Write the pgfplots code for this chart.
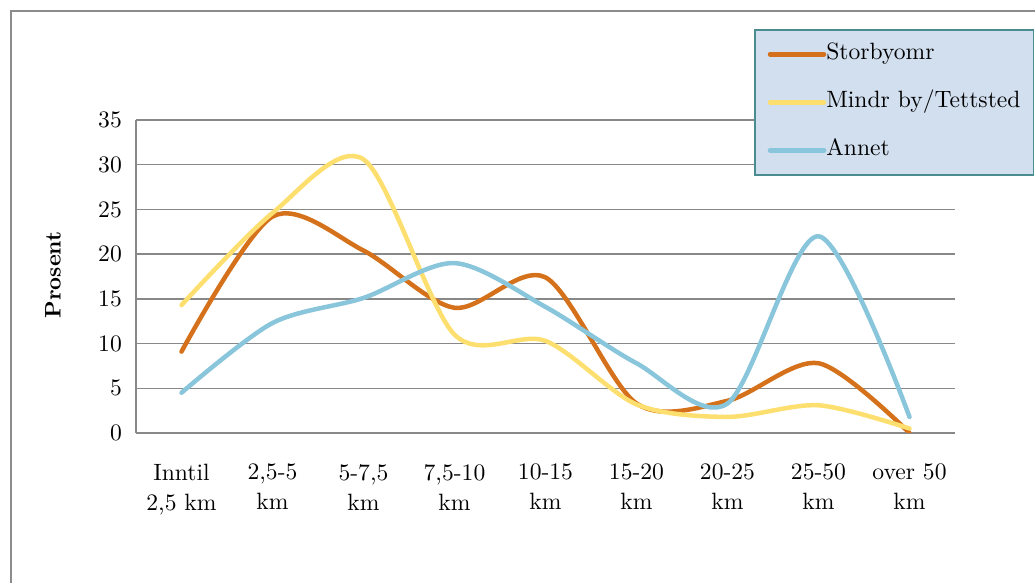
\documentclass[border=0pt]{standalone}
\usepackage{fontspec}
\setmainfont{lmroman10}[Extension=.otf, UprightFont=*-regular, BoldFont=*-bold, ItalicFont=*-italic, BoldItalicFont=*-bolditalic]
\usepackage{pgfplots}
\pgfplotsset{compat=1.18}

\definecolor{storby}{HTML}{D4711A}
\definecolor{mindr}{HTML}{FDDF6F}
\definecolor{annet}{HTML}{89C5DB}
\definecolor{gridgray}{HTML}{888888}
\definecolor{framegray}{HTML}{8C8C8C}
\definecolor{legfill}{HTML}{D1DFEF}
\definecolor{legedge}{HTML}{4A8C90}

\begin{document}
\fontsize{23.6}{30}\selectfont
\begin{tikzpicture}[x=1pt,y=1pt]
\path[use as bounding box] (0,0) rectangle (1035,583);
% outer chart frame
\draw[framegray, line width=2pt] (11,-10) -- (11,572) -- (1045,572);
\begin{axis}[
  at={(136pt,150pt)}, anchor=south west,
  scale only axis, width=819pt, height=313pt,
  xmin=-0.5, xmax=8.5, ymin=0, ymax=35,
  ytick={0,5,...,35},
  xtick={0,...,8},
  /pgf/number format/assume math mode=true,
  xticklabels={{Inntil\\2,5 km},{2,5-5\\km},{5-7,5\\km},{7,5-10\\km},{10-15\\km},{15-20\\km},{20-25\\km},{25-50\\km},{over 50\\km}},
  xticklabel style={align=center, inner sep=0pt, anchor=north, yshift=-31pt, font=\fontsize{23.6}{30}\selectfont},
  yticklabel style={anchor=east, inner sep=0pt, xshift=-14pt, font=\fontsize{23.6}{30}\selectfont},
  ymajorgrids, grid style={gridgray, line width=1.5pt},
  axis x line*=bottom, axis y line*=left,
  axis line style={gridgray, line width=1.8pt, -},
  major tick length=0pt,
  ylabel={\textbf{Prosent}},
  ylabel style={at={(axis description cs:-0.1014,0.505)}, anchor=center, font=\fontsize{22.5}{26}\selectfont},
  legend cell align=left,
  legend image code/.code={\draw[#1, line width=4.5pt] (2.25pt,0pt) -- (51.75pt,0pt); \path (0pt,0pt) -- (54pt,0pt);},
  legend style={at={(axis description cs:0.7546,1.2907)}, anchor=north west,
    fill=legfill, draw=legedge, line width=1.5pt,
    inner xsep=13pt, inner ysep=14pt, row sep=27pt,
    nodes={inner sep=0pt, text height=16pt, text depth=5pt},
    font=\fontsize{23.6}{30}\selectfont},
  every axis plot/.append style={smooth, tension=0.5, line width=4.5pt, line cap=round, line join=round, no markers},
]
\addplot[storby] coordinates {(0,9.1) (1,24.2) (2,20.4) (3,14.0) (4,17.4) (5,3.3) (6,3.6) (7,7.8) (8,0.0)};
\addlegendentry{Storbyomr}
\addplot[mindr] coordinates {(0,14.3) (1,24.6) (2,30.6) (3,11.0) (4,10.3) (5,3.2) (6,1.8) (7,3.1) (8,0.5)};
\addlegendentry{Mindr by/Tettsted}
\addplot[annet] coordinates {(0,4.5) (1,12.3) (2,15.1) (3,19.0) (4,14.1) (5,7.8) (6,3.3) (7,22.0) (8,1.8)};
\addlegendentry{Annet}
\end{axis}
\end{tikzpicture}
\end{document}
